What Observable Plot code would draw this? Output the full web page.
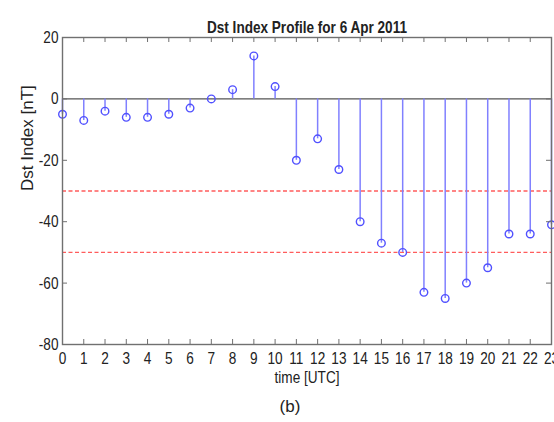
<!DOCTYPE html>
<html>
<head>
<meta charset="utf-8">
<script src="https://cdn.jsdelivr.net/npm/d3@7"></script>
<script src="https://cdn.jsdelivr.net/npm/@observablehq/plot@0.6"></script>
<style>
  html, body { margin: 0; padding: 0; background: #fff; }
</style>
</head>
<body>
<div id="chart"></div>
<script>
const hours = [0,1,2,3,4,5,6,7,8,9,10,11,12,13,14,15,16,17,18,19,20,21,22,23];
const dst   = [-5,-7,-4,-6,-6,-5,-3,0,3,14,4,-20,-13,-23,-40,-47,-50,-63,-65,-60,-55,-44,-44,-41];
const thresholds = [-30, -50];
const xTicks = hours;
const yTicks = [-80,-60,-40,-20,0,20];
const title = "Dst Index Profile for 6 Apr 2011";
const xLabel = "time [UTC]";
const yLabel = "Dst Index [nT]";
const caption = "(b)";

const data = hours.map((h, i) => ({hour: h, value: dst[i]}));
const font = "'Liberation Sans', Arial, sans-serif";

const W = 554, H = 422, mT = 37, mB = 78, mL = 62, mR = 3;
const innerW = W - mL - mR, innerH = H - mT - mB;
const tick = 5;
const axisColor = "#707070";

const chart = Plot.plot({
  width: W, height: H,
  marginTop: mT, marginBottom: mB, marginLeft: mL, marginRight: mR,
  x: {domain: [0, 23]},
  y: {domain: [-80, 20]},
  style: {fontFamily: font, fontSize: "17px", background: "#fff", color: "#222"},
  marks: [
    Plot.ruleY(thresholds, {y: d => d, stroke: "#ff5c5c", strokeWidth: 1.3, strokeDasharray: "4,2.5"}),
    Plot.ruleY([0], {stroke: "#555", strokeWidth: 1.4}),
    Plot.ruleX(data, {x: "hour", y1: 0, y2: "value", stroke: "#8080ff", strokeWidth: 1.5}),
    Plot.dot(data, {x: "hour", y: "value", r: 3.8, stroke: "#5050ff", strokeWidth: 1.4, fill: "none"}),
    Plot.tickX(xTicks, {x: d => d, insetTop: innerH - tick, stroke: axisColor}),
    Plot.tickX(xTicks, {x: d => d, insetBottom: innerH - tick, stroke: axisColor}),
    Plot.tickY(yTicks, {y: d => d, insetRight: innerW - tick, stroke: axisColor}),
    Plot.tickY(yTicks, {y: d => d, insetLeft: innerW - tick, stroke: axisColor}),
    Plot.frame({stroke: axisColor, strokeWidth: 1.4}),
    Plot.axisX(xTicks, {tickSize: 0, tickPadding: 7, label: null, tickFormat: d => String(d), fontSize: 17}),
    Plot.axisY(yTicks, {tickSize: 0, tickPadding: 4, label: null, tickFormat: d => String(d), fontSize: 17}),
    Plot.text([title], {frameAnchor: "top", dy: -17, fontWeight: "bold", fontSize: 17}),
    Plot.text([xLabel], {frameAnchor: "bottom", dy: 38, fontSize: 17}),
    Plot.text([caption], {frameAnchor: "bottom", dy: 67, dx: -17, fontSize: 17}),
    Plot.text([yLabel], {frameAnchor: "left", dx: -35, rotate: -90, fontSize: 17})
  ]
});
document.getElementById("chart").appendChild(chart);

// The reference's text is horizontally condensed; squeeze glyphs to match.
const squeeze = 0.8;
chart.querySelectorAll("text").forEach(t => {
  const s = t.textContent;
  if (s === caption || s === yLabel) return;
  const len = t.getComputedTextLength();
  if (len > 0) {
    const target = s === title ? 200 : len * squeeze;
    t.setAttribute("textLength", target.toFixed(2));
    t.setAttribute("lengthAdjust", "spacingAndGlyphs");
  }
});
</script>
</body>
</html>
